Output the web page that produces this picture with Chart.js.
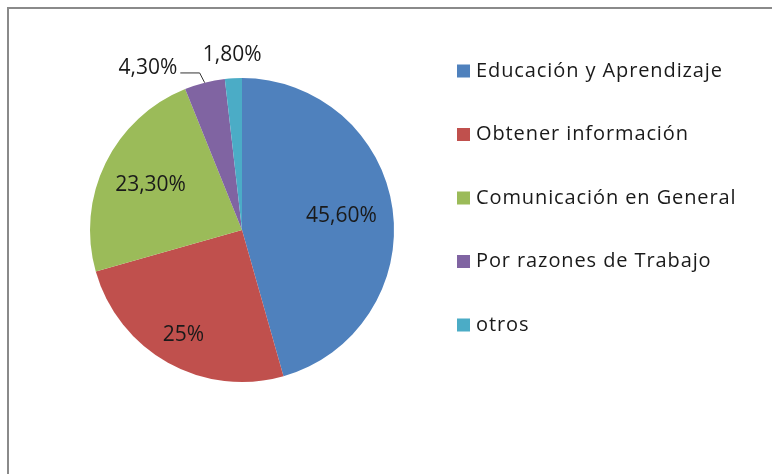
<!DOCTYPE html>
<html>
<head>
<meta charset="utf-8">
<script src="https://cdn.jsdelivr.net/npm/chart.js@4.4.1/dist/chart.umd.min.js"></script>
<style>
  body { margin: 0; background: #fff; }
  #wrap { position: relative; width: 772px; height: 474px; overflow: hidden; }
  #frame { position: absolute; left: 7px; top: 7px; width: 900px; height: 600px;
           border-top: 2px solid #8a8a8a; border-left: 2px solid #8a8a8a; }
  canvas { position: absolute; left: 0; top: 0; }
</style>
</head>
<body>
<div id="wrap">
  <div id="frame"></div>
  <canvas id="pie" width="772" height="474"></canvas>
</div>
<script>
// --- data ---
const categories = ['Educación y Aprendizaje', 'Obtener información', 'Comunicación en General', 'Por razones de Trabajo', 'otros'];
const values = [45.6, 25, 23.3, 4.3, 1.8];
const valueLabels = ['45,60%', '25%', '23,30%', '4,30%', '1,80%'];
const sliceColors = ['#4F81BD', '#C0504D', '#9BBB59', '#8064A2', '#4BACC6'];

const FONT = '"Open Sans", "Liberation Sans", sans-serif';

// where each value label sits, relative to its slice (radius fraction, angle shift in deg)
const labelPlace = [
    { r: 0.66, shift: 0 },
    { r: 0.79, shift: 0 },
    { r: 0.67, shift: 0 },
    { r: 1.23, shift: -16, leader: true },
    { r: 1.15, shift: 0 }
];

// labels on / next to each slice, placed from the arc geometry
const sliceLabels = {
    id: 'sliceLabels',
    afterDatasetsDraw(chart) {
        const ctx = chart.ctx;
        const arcs = chart.getDatasetMeta(0).data;
        ctx.save();
        ctx.font = '21px ' + FONT;
        ctx.fillStyle = '#1a1a1a';
        ctx.textAlign = 'center';
        ctx.textBaseline = 'middle';
        arcs.forEach((arc, i) => {
            const p = labelPlace[i];
            const realMid = (arc.startAngle + arc.endAngle) / 2;
            const mid = realMid + p.shift * Math.PI / 180;
            const r = arc.outerRadius * p.r;
            const x = arc.x + Math.cos(mid) * r;
            const y = arc.y + Math.sin(mid) * r;
            ctx.fillText(valueLabels[i], x, y);
            if (p.leader) {
                const ex = arc.x + Math.cos(realMid) * arc.outerRadius;
                const ey = arc.y + Math.sin(realMid) * arc.outerRadius;
                const w = ctx.measureText(valueLabels[i]).width;
                ctx.beginPath();
                ctx.strokeStyle = '#333';
                ctx.lineWidth = 1;
                ctx.moveTo(x + w / 2 + 3, y + 4.5);
                ctx.lineTo(ex - 5, y + 4.5);
                ctx.lineTo(ex, ey);
                ctx.stroke();
            }
        });
        ctx.restore();
    }
};

// legend on the right, drawn from the chart's labels/colours
const sideLegend = {
    id: 'sideLegend',
    afterDraw(chart) {
        const ctx = chart.ctx;
        const colors = chart.data.datasets[0].backgroundColor;
        ctx.save();
        ctx.font = '20px ' + FONT;
        ctx.letterSpacing = '0.9px';
        ctx.textBaseline = 'middle';
        chart.data.labels.forEach((lab, i) => {
            const y = 71 + i * 63.5;
            ctx.fillStyle = colors[i];
            ctx.fillRect(457, y - 6.5, 13, 13);
            ctx.fillStyle = '#1a1a1a';
            ctx.fillText(lab, 476, y);
        });
        ctx.restore();
    }
};

new Chart(document.getElementById('pie'), {
    type: 'pie',
    data: {
        labels: categories,
        datasets: [{
            data: values,
            backgroundColor: sliceColors,
            borderWidth: 0
        }]
    },
    options: {
        responsive: false,
        animation: false,
        layout: { padding: { left: 90, top: 78, right: 378, bottom: 92 } },
        plugins: {
            legend: { display: false },
            tooltip: { enabled: false }
        }
    },
    plugins: [sliceLabels, sideLegend]
});
</script>
</body>
</html>
